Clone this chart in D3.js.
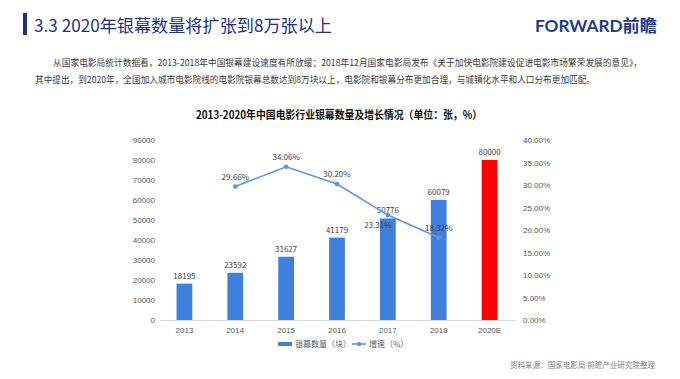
<!DOCTYPE html>
<html><head><meta charset="utf-8">
<script src="https://cdn.jsdelivr.net/npm/d3@7"></script>
<style>body{margin:0;background:#fff;}svg{display:block;font-family:"Noto Sans CJK SC","Noto Sans",sans-serif;}</style>
</head><body>
<svg id="c" width="680" height="379"></svg>
<script>
const categories = ["2013","2014","2015","2016","2017","2018","2020E"];
const screens = [18195,23592,31627,41179,50776,60079,80000];
const growthYears = ["2014","2015","2016","2017","2018"];
const growth = [29.66,34.06,30.20,23.31,18.32];
const leftTicks = [0,10000,20000,30000,40000,50000,60000,70000,80000,90000];
const rightTicks = [0,5,10,15,20,25,30,35,40];

const svg = d3.select("#c");
// header
svg.append("rect").attr("x",23).attr("y",13).attr("width",4).attr("height",22).attr("fill","#1e2f86");
svg.append("text").attr("x",34).attr("y",32).attr("font-size",17).attr("fill","#1e2f86")
  .attr("textLength",298).attr("lengthAdjust","spacingAndGlyphs")
  .text("3.3  2020年银幕数量将扩张到8万张以上");
svg.append("text").attr("x",535).attr("y",32).attr("font-size",17).attr("font-weight","bold").attr("fill","#1e3a8f")
  .attr("textLength",122).attr("lengthAdjust","spacingAndGlyphs").attr("font-family","Lato, 'Noto Sans CJK SC'")
  .text("FORWARD前瞻");
svg.append("text").attr("x",53).attr("y",66).attr("font-size",9).attr("fill","#3a3a3a")
  .attr("textLength",589).attr("lengthAdjust","spacingAndGlyphs")
  .text("从国家电影局统计数据看，2013-2018年中国银幕建设速度有所放缓；2018年12月国家电影局发布《关于加快电影院建设促进电影市场繁荣发展的意见》，");
svg.append("text").attr("x",35).attr("y",83).attr("font-size",9).attr("fill","#3a3a3a")
  .attr("textLength",560).attr("lengthAdjust","spacingAndGlyphs")
  .text("其中提出，到2020年，全国加入城市电影院线的电影院银幕总数达到8万块以上，电影院和银幕分布更加合理，与城镇化水平和人口分布更加匹配。");
svg.append("text").attr("x",339).attr("y",119).attr("font-size",11).attr("font-weight","bold").attr("fill","#111")
  .attr("text-anchor","middle").attr("textLength",286).attr("lengthAdjust","spacingAndGlyphs")
  .text("2013-2020年中国电影行业银幕数量及增长情况（单位：张，%）");

const x = d3.scaleBand().domain(categories).range([159,515]).paddingInner(0.69).paddingOuter(0.345);
const y = d3.scaleLinear().domain([0,90000]).range([320,140]);
const y2 = d3.scaleLinear().domain([0,40]).range([320,140]);

const lAxis = svg.append("g").attr("transform","translate(155,0)")
  .call(d3.axisLeft(y).tickValues(leftTicks).tickSize(0).tickPadding(0).tickFormat(d3.format("d")));
const rAxis = svg.append("g").attr("transform","translate(523,0)")
  .call(d3.axisRight(y2).tickValues(rightTicks).tickSize(0).tickPadding(0).tickFormat(d=>d.toFixed(2)+"%"));
[lAxis,rAxis].forEach(a=>{a.select(".domain").remove();a.selectAll("text").attr("font-size",8).attr("fill","#595959");});
const xAxis = svg.append("g").attr("transform","translate(0,320)")
  .call(d3.axisBottom(x).tickSize(0).tickPadding(7));
xAxis.select(".domain").attr("stroke","#d9d9d9");
xAxis.selectAll("text").attr("font-size",8).attr("fill","#595959");

svg.selectAll("rect.bar").data(categories).enter().append("rect").attr("class","bar")
  .attr("x",d=>x(d)).attr("width",x.bandwidth())
  .attr("y",(d,i)=>y(screens[i])).attr("height",(d,i)=>320-y(screens[i]))
  .attr("fill",d=>d==="2020E"?"#ff0000":"#3e80dd");
svg.selectAll("text.bl").data(categories).enter().append("text").attr("class","bl")
  .attr("x",d=>x(d)+x.bandwidth()/2).attr("y",(d,i)=>y(screens[i])-5)
  .attr("text-anchor","middle").attr("font-size",8).attr("fill","#404040")
  .text((d,i)=>screens[i]);

const cx = d=>x(d)+x.bandwidth()/2;
const line = d3.line().x((d,i)=>cx(growthYears[i])).y(d=>y2(d));
svg.append("path").datum(growth).attr("d",line).attr("fill","none").attr("stroke","#5b95e3").attr("stroke-width",1.6);
svg.selectAll("circle.pt").data(growth).enter().append("circle")
  .attr("cx",(d,i)=>cx(growthYears[i])).attr("cy",d=>y2(d)).attr("r",2.3).attr("fill","#5b95e3");
svg.selectAll("text.pl").data(growth).enter().append("text")
  .attr("x",(d,i)=>cx(growthYears[i]) + (growthYears[i]==="2017"?-10:0))
  .attr("y",(d,i)=>y2(d) + (growthYears[i]==="2017"?13:-7))
  .attr("text-anchor","middle").attr("font-size",8).attr("fill","#404040")
  .text(d=>d.toFixed(2)+"%");

// legend
const lg = svg.append("g");
lg.append("rect").attr("x",278).attr("y",342).attr("width",14).attr("height",4).attr("fill","#3e80dd");
lg.append("text").attr("x",295).attr("y",347).attr("font-size",8).attr("fill","#595959").text("银幕数量（块）");
lg.append("line").attr("x1",352).attr("x2",366).attr("y1",344).attr("y2",344).attr("stroke","#5b95e3").attr("stroke-width",1.6);
lg.append("circle").attr("cx",359).attr("cy",344).attr("r",2.2).attr("fill","#5b95e3");
lg.append("text").attr("x",369).attr("y",347).attr("font-size",8).attr("fill","#595959").text("增速（%）");

svg.append("text").attr("x",510).attr("y",368).attr("font-size",8).attr("fill","#7f7f7f")
  .attr("textLength",145).attr("lengthAdjust","spacingAndGlyphs")
  .text("资料来源：国家电影局   前瞻产业研究院整理");
</script>
</body></html>
